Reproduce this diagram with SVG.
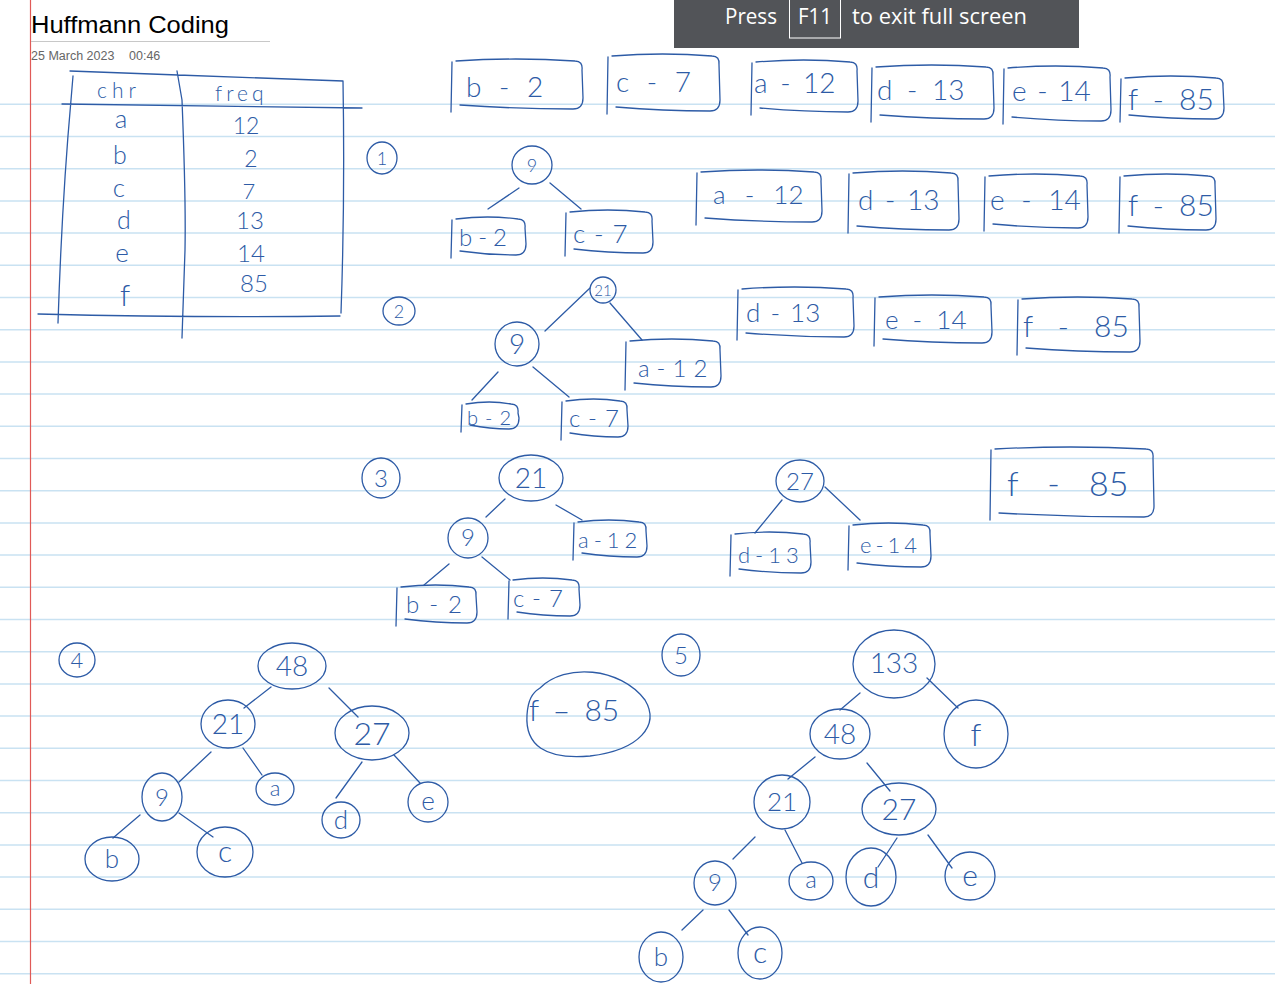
<svg xmlns="http://www.w3.org/2000/svg" width="1275" height="984" viewBox="0 0 1275 984">
<style>
.ink{fill:none;stroke:#2d5ba6;stroke-width:1.3;stroke-linecap:round;stroke-linejoin:round}
.hw{font-family:Lato,"Liberation Sans",sans-serif;font-weight:300;fill:#2d5ba6}
.mid{text-anchor:middle}
.rule{stroke:#c9e2f2;stroke-width:1.5}
</style>
<rect width="1275" height="984" fill="#ffffff"/>
<g id="rules">
<line class="rule" x1="0" y1="104.3" x2="1275" y2="104.3"/><line class="rule" x1="0" y1="136.5" x2="1275" y2="136.5"/><line class="rule" x1="0" y1="168.7" x2="1275" y2="168.7"/><line class="rule" x1="0" y1="200.9" x2="1275" y2="200.9"/><line class="rule" x1="0" y1="233.1" x2="1275" y2="233.1"/><line class="rule" x1="0" y1="265.3" x2="1275" y2="265.3"/><line class="rule" x1="0" y1="297.5" x2="1275" y2="297.5"/><line class="rule" x1="0" y1="329.7" x2="1275" y2="329.7"/><line class="rule" x1="0" y1="361.9" x2="1275" y2="361.9"/><line class="rule" x1="0" y1="394.1" x2="1275" y2="394.1"/><line class="rule" x1="0" y1="426.3" x2="1275" y2="426.3"/><line class="rule" x1="0" y1="458.5" x2="1275" y2="458.5"/><line class="rule" x1="0" y1="490.7" x2="1275" y2="490.7"/><line class="rule" x1="0" y1="522.9" x2="1275" y2="522.9"/><line class="rule" x1="0" y1="555.1" x2="1275" y2="555.1"/><line class="rule" x1="0" y1="587.3" x2="1275" y2="587.3"/><line class="rule" x1="0" y1="619.5" x2="1275" y2="619.5"/><line class="rule" x1="0" y1="651.7" x2="1275" y2="651.7"/><line class="rule" x1="0" y1="683.9" x2="1275" y2="683.9"/><line class="rule" x1="0" y1="716.1" x2="1275" y2="716.1"/><line class="rule" x1="0" y1="748.3" x2="1275" y2="748.3"/><line class="rule" x1="0" y1="780.5" x2="1275" y2="780.5"/><line class="rule" x1="0" y1="812.7" x2="1275" y2="812.7"/><line class="rule" x1="0" y1="844.9" x2="1275" y2="844.9"/><line class="rule" x1="0" y1="877.1" x2="1275" y2="877.1"/><line class="rule" x1="0" y1="909.3" x2="1275" y2="909.3"/><line class="rule" x1="0" y1="941.5" x2="1275" y2="941.5"/><line class="rule" x1="0" y1="973.7" x2="1275" y2="973.7"/>
<line x1="30.5" y1="0" x2="30.5" y2="984" stroke="#e05a57" stroke-width="1.2"/>
</g>
<g id="header">
<text x="31" y="33" font-family="'Liberation Sans',sans-serif" font-size="24.5" fill="#000" textLength="198" lengthAdjust="spacingAndGlyphs">Huffmann Coding</text>
<line x1="31" y1="41.5" x2="270" y2="41.5" stroke="#c8c8c8" stroke-width="1"/>
<text x="31" y="60" font-family="'Liberation Sans',sans-serif" font-size="12.5" fill="#666">25 March 2023</text>
<text x="129" y="60" font-family="'Liberation Sans',sans-serif" font-size="12.5" fill="#666">00:46</text>
</g>
<g id="fullscreen-banner">
<rect x="674" y="0" width="405" height="48" fill="#525458"/>
<rect x="789.5" y="-1" width="51" height="39" fill="none" stroke="#ffffff" stroke-width="1"/>
<text x="725" y="24" font-family="'Open Sans',sans-serif" font-size="21" fill="#fff" textLength="52" lengthAdjust="spacingAndGlyphs">Press</text>
<text x="798" y="24" font-family="'Open Sans',sans-serif" font-size="21" fill="#fff" textLength="34" lengthAdjust="spacingAndGlyphs">F11</text>
<text x="852" y="24" font-family="'Open Sans',sans-serif" font-size="21" fill="#fff" textLength="175" lengthAdjust="spacingAndGlyphs">to exit full screen</text>
</g>
<g id="table">
<path class="ink" d="M70 71 Q125 73 178 75 L343 81 M73 76 L71 100 Q62 200 58 323 M177 71 L182 100 Q186 200 185 250 L182 338 M343 81 Q345 200 341 313 M62 104 L362 108 M38 314 Q200 318 340 316"/>
<text class="hw" x="97" y="98" font-size="21" letter-spacing="5">chr</text>
<text class="hw" x="215" y="101" font-size="21" letter-spacing="4">freq</text>
<text class="hw mid" x="121" y="128" font-size="26">a</text>
<text class="hw mid" x="120" y="164" font-size="25">b</text>
<text class="hw mid" x="119" y="197" font-size="26">c</text>
<text class="hw mid" x="124" y="229" font-size="25">d</text>
<text class="hw mid" x="122" y="262" font-size="26">e</text>
<text class="hw mid" x="125" y="306" font-size="30">f</text>
<text class="hw mid" x="246" y="134" font-size="23">12</text>
<text class="hw mid" x="251" y="167" font-size="23">2</text>
<text class="hw mid" x="249" y="199" font-size="22">7</text>
<text class="hw mid" x="250" y="229" font-size="24">13</text>
<text class="hw mid" x="251" y="262" font-size="24">14</text>
<text class="hw mid" x="254" y="292" font-size="24">85</text>
</g>
<g id="step-labels">
<g id="step1"><ellipse class="ink" cx="382" cy="158" rx="15" ry="16"/><text class="hw mid" x="382" y="165" font-size="18">1</text></g>
<g id="step2"><ellipse class="ink" cx="399" cy="311" rx="16" ry="14"/><text class="hw mid" x="399" y="318" font-size="18">2</text></g>
<g id="step3"><ellipse class="ink" cx="381" cy="478" rx="19" ry="20"/><text class="hw mid" x="381" y="487" font-size="24">3</text></g>
<g id="step4"><ellipse class="ink" cx="77" cy="660" rx="18" ry="17"/><text class="hw mid" x="77" y="668" font-size="22">4</text></g>
<g id="step5"><ellipse class="ink" cx="681" cy="655" rx="19" ry="21"/><text class="hw mid" x="681" y="664" font-size="24">5</text></g>
</g>
<g id="connectors" class="ink">
<path d="M519 188 L488 209 M550 183 L581 209"/>
<path d="M590 288 L545 331 M610 303 L642 340 M498 372 L472 400 M533 367 L569 397"/>
<path d="M505 499 L486 517 M556 505 L582 520 M449 564 L424 585 M482 557 L510 580 M782 500 L755 533 M825 487 L860 520"/>
<path d="M271 687 L244 708 M329 688 L358 717 M211 752 L179 782 M243 748 L262 775 M362 762 L336 798 M394 755 L420 783 M140 815 L113 838 M179 813 L213 837"/>
<path d="M860 693 L840 710 M927 678 L958 708 M815 757 L788 779 M867 763 L890 791 M755 837 L733 859 M785 830 L802 863 M897 838 L878 867 M928 835 L952 868 M703 910 L682 930 M729 910 L748 935"/>
</g>
<g id="row0">
<g id="r0-b"><path class="ink" d="M452 62 L451 112 M456 61 Q516 57 575 61 Q583 61 582 70 L583 98 Q583 109 573 109 Q516 109 460 105"/><text class="hw" x="466" y="97" font-size="28" word-spacing="10">b - 2</text></g>
<g id="r0-c"><path class="ink" d="M608 57 L607 114 M612 56 Q663 52 712 56 Q720 56 719 65 L720 100 Q720 111 710 111 Q663 111 616 107"/><text class="hw" x="616" y="92" font-size="28" word-spacing="10">c - 7</text></g>
<g id="r0-a"><path class="ink" d="M752 63 L751 115 M756 62 Q804 58 850 62 Q858 62 857 71 L858 101 Q858 112 848 112 Q804 112 760 108"/><text class="hw" x="754" y="93" font-size="28" word-spacing="5">a - 12</text></g>
<g id="r0-d"><path class="ink" d="M872 68 L871 122 M876 67 Q932 63 986 67 Q994 67 993 76 L994 108 Q994 119 984 119 Q932 119 880 115"/><text class="hw" x="877" y="100" font-size="28" word-spacing="7">d - 13</text></g>
<g id="r0-e"><path class="ink" d="M1004 69 L1003 124 M1008 68 Q1056 64 1103 68 Q1111 68 1110 77 L1111 110 Q1111 121 1101 121 Q1056 121 1012 117"/><text class="hw" x="1012" y="101" font-size="28" word-spacing="3">e - 14</text></g>
<g id="r0-f"><path class="ink" d="M1121 79 L1120 122 M1125 78 Q1171 74 1216 78 Q1224 78 1223 87 L1224 108 Q1224 119 1214 119 Q1171 119 1129 115"/><text class="hw" x="1128" y="110" font-size="30" word-spacing="7">f - 85</text></g>
</g>
<g id="row1">
<g id="r1-n9"><ellipse class="ink" cx="532" cy="165" rx="20" ry="19"/><text class="hw mid" x="532" y="172" font-size="18">9</text></g>
<g id="r1-b"><path class="ink" d="M452 220 L451 258 M456 219 Q488 215 518 219 Q526 219 525 228 L526 244 Q526 255 516 255 Q488 255 460 251"/><text class="hw" x="459" y="246" font-size="24" letter-spacing="6">b-2</text></g>
<g id="r1-c"><path class="ink" d="M566 213 L565 256 M570 212 Q608 208 645 212 Q653 212 652 221 L653 242 Q653 253 643 253 Q608 253 574 249"/><text class="hw" x="573" y="243" font-size="26" letter-spacing="9">c-7</text></g>
<g id="r1-a"><path class="ink" d="M697 173 L696 225 M701 172 Q758 168 814 172 Q822 172 821 181 L822 211 Q822 222 812 222 Q758 222 705 218"/><text class="hw" x="713" y="204" font-size="26" word-spacing="12">a - 12</text></g>
<g id="r1-d"><path class="ink" d="M849 174 L848 233 M853 173 Q903 169 951 173 Q959 173 958 182 L959 219 Q959 230 949 230 Q903 230 857 226"/><text class="hw" x="858" y="210" font-size="28" word-spacing="4">d - 13</text></g>
<g id="r1-e"><path class="ink" d="M985 177 L984 231 M989 176 Q1035 172 1080 176 Q1088 176 1087 185 L1088 217 Q1088 228 1078 228 Q1035 228 993 224"/><text class="hw" x="990" y="210" font-size="28" word-spacing="9">e - 14</text></g>
<g id="r1-f"><path class="ink" d="M1120 177 L1119 233 M1124 176 Q1167 172 1208 176 Q1216 176 1215 185 L1216 219 Q1216 230 1206 230 Q1167 230 1128 226"/><text class="hw" x="1128" y="216" font-size="30" word-spacing="7">f - 85</text></g>
</g>
<g id="row2">
<g id="r2-n21"><ellipse class="ink" cx="603" cy="290" rx="13" ry="13"/><text class="hw mid" x="603" y="296" font-size="15">21</text></g>
<g id="r2-n9"><ellipse class="ink" cx="517" cy="344" rx="22" ry="22"/><text class="hw mid" x="517" y="354" font-size="28">9</text></g>
<g id="r2-a"><path class="ink" d="M626 342 L625 390 M630 341 Q672 337 713 341 Q721 341 720 350 L721 376 Q721 387 711 387 Q672 387 634 383"/><text class="hw" x="638" y="377" font-size="24" letter-spacing="7">a-12</text></g>
<g id="r2-b"><path class="ink" d="M462 405 L461 432 M466 404 Q490 400 511 404 Q519 404 518 413 L519 418 Q519 429 509 429 Q490 429 470 425"/><text class="hw" x="467" y="425" font-size="20" letter-spacing="7">b-2</text></g>
<g id="r2-c"><path class="ink" d="M562 402 L561 440 M566 401 Q594 397 620 401 Q628 401 627 410 L628 426 Q628 437 618 437 Q594 437 570 433"/><text class="hw" x="569" y="427" font-size="24" letter-spacing="8">c-7</text></g>
<g id="r2-d"><path class="ink" d="M738 290 L737 340 M742 289 Q795 285 846 289 Q854 289 853 298 L854 326 Q854 337 844 337 Q795 337 746 333"/><text class="hw" x="746" y="322" font-size="26" word-spacing="3">d - 13</text></g>
<g id="r2-e"><path class="ink" d="M875 298 L874 346 M879 297 Q932 293 984 297 Q992 297 991 306 L992 332 Q992 343 982 343 Q932 343 883 339"/><text class="hw" x="885" y="329" font-size="26" word-spacing="7">e - 14</text></g>
<g id="r2-f"><path class="ink" d="M1018 300 L1017 355 M1022 299 Q1078 295 1132 299 Q1140 299 1139 308 L1140 341 Q1140 352 1130 352 Q1078 352 1026 348"/><text class="hw" x="1023" y="337" font-size="30" word-spacing="17">f - 85</text></g>
</g>
<g id="row3">
<g id="r3-n21"><ellipse class="ink" cx="531" cy="478" rx="32" ry="23"/><text class="hw mid" x="531" y="488" font-size="28">21</text></g>
<g id="r3-n9"><ellipse class="ink" cx="468" cy="538" rx="20" ry="20"/><text class="hw mid" x="468" y="546" font-size="24">9</text></g>
<g id="r3-a"><path class="ink" d="M574 523 L573 560 M578 522 Q609 518 639 522 Q647 522 646 531 L647 546 Q647 557 637 557 Q609 557 582 553"/><text class="hw" x="578" y="548" font-size="22" letter-spacing="5">a-12</text></g>
<g id="r3-b"><path class="ink" d="M397 588 L396 626 M401 587 Q436 583 469 587 Q477 587 476 596 L477 612 Q477 623 467 623 Q436 623 405 619"/><text class="hw" x="406" y="613" font-size="24" letter-spacing="10">b-2</text></g>
<g id="r3-c"><path class="ink" d="M509 581 L508 619 M513 580 Q543 576 572 580 Q580 580 579 589 L580 605 Q580 616 570 616 Q543 616 517 612"/><text class="hw" x="513" y="607" font-size="24" letter-spacing="8">c-7</text></g>
<g id="r3-n27"><ellipse class="ink" cx="800" cy="481" rx="24" ry="21"/><text class="hw mid" x="800" y="490" font-size="24">27</text></g>
<g id="r3-d"><path class="ink" d="M731 535 L730 576 M735 534 Q770 530 803 534 Q811 534 810 543 L811 562 Q811 573 801 573 Q770 573 739 569"/><text class="hw" x="738" y="563" font-size="22" letter-spacing="5">d-13</text></g>
<g id="r3-e"><path class="ink" d="M849 526 L848 570 M853 525 Q889 521 923 525 Q931 525 930 534 L931 556 Q931 567 921 567 Q889 567 857 563"/><text class="hw" x="860" y="553" font-size="22" letter-spacing="4">e-14</text></g>
<g id="r3-f"><path class="ink" d="M991 450 L990 520 M995 449 Q1071 445 1146 449 Q1154 449 1153 458 L1154 506 Q1154 517 1144 517 Q1071 517 999 513"/><text class="hw" x="1007" y="496" font-size="34" word-spacing="20">f - 85</text></g>
</g>
<g id="row4">
<g id="r4-n48"><ellipse class="ink" cx="292" cy="666" rx="34" ry="23"/><text class="hw mid" x="292" y="676" font-size="28">48</text></g>
<g id="r4-n21"><ellipse class="ink" cx="228" cy="724" rx="27" ry="24"/><text class="hw mid" x="228" y="734" font-size="28">21</text></g>
<g id="r4-n27"><ellipse class="ink" cx="372" cy="733" rx="37" ry="27"/><text class="hw mid" x="372" y="745" font-size="32">27</text></g>
<g id="r4-n9"><ellipse class="ink" cx="162" cy="797" rx="20" ry="24"/><text class="hw mid" x="162" y="806" font-size="24">9</text></g>
<g id="r4-a"><ellipse class="ink" cx="275" cy="789" rx="19" ry="16"/><text class="hw mid" x="275" y="796" font-size="22">a</text></g>
<g id="r4-d"><ellipse class="ink" cx="341" cy="820" rx="19" ry="18"/><text class="hw mid" x="341" y="829" font-size="26">d</text></g>
<g id="r4-e"><ellipse class="ink" cx="428" cy="802" rx="20" ry="20"/><text class="hw mid" x="428" y="810" font-size="26">e</text></g>
<g id="r4-b"><ellipse class="ink" cx="112" cy="859" rx="27" ry="22"/><text class="hw mid" x="112" y="868" font-size="26">b</text></g>
<g id="r4-c"><ellipse class="ink" cx="225" cy="852" rx="28" ry="25"/><text class="hw mid" x="225" y="862" font-size="30">c</text></g>
<g id="r4-f"><path class="ink" d="M540 688 C565 663 620 667 645 700 C660 725 640 750 590 756 C545 760 525 745 527 715 C528 700 532 693 540 688 Z"/><text class="hw" x="529" y="721" font-size="30" word-spacing="6">f – 85</text></g>
</g>
<g id="row5">
<g id="r5-n133"><ellipse class="ink" cx="894" cy="664" rx="41" ry="34"/><text class="hw mid" x="894" y="673" font-size="28">133</text></g>
<g id="r5-n48"><ellipse class="ink" cx="840" cy="734" rx="30" ry="25"/><text class="hw mid" x="840" y="744" font-size="28">48</text></g>
<g id="r5-f"><ellipse class="ink" cx="976" cy="734" rx="32" ry="34"/><text class="hw mid" x="976" y="746" font-size="32">f</text></g>
<g id="r5-n21"><ellipse class="ink" cx="782" cy="802" rx="28" ry="27"/><text class="hw mid" x="782" y="811" font-size="26">21</text></g>
<g id="r5-n27"><ellipse class="ink" cx="899" cy="809" rx="37" ry="26"/><text class="hw mid" x="899" y="820" font-size="30">27</text></g>
<g id="r5-n9"><ellipse class="ink" cx="715" cy="883" rx="21" ry="22"/><text class="hw mid" x="715" y="891" font-size="24">9</text></g>
<g id="r5-a"><ellipse class="ink" cx="811" cy="881" rx="22" ry="19"/><text class="hw mid" x="811" y="888" font-size="24">a</text></g>
<g id="r5-d"><ellipse class="ink" cx="871" cy="877" rx="25" ry="29"/><text class="hw mid" x="871" y="888" font-size="30">d</text></g>
<g id="r5-e"><ellipse class="ink" cx="970" cy="876" rx="25" ry="24"/><text class="hw mid" x="970" y="886" font-size="30">e</text></g>
<g id="r5-b"><ellipse class="ink" cx="661" cy="957" rx="22" ry="25"/><text class="hw mid" x="661" y="966" font-size="26">b</text></g>
<g id="r5-c"><ellipse class="ink" cx="760" cy="953" rx="22" ry="26"/><text class="hw mid" x="760" y="963" font-size="30">c</text></g>
</g>
</svg>
